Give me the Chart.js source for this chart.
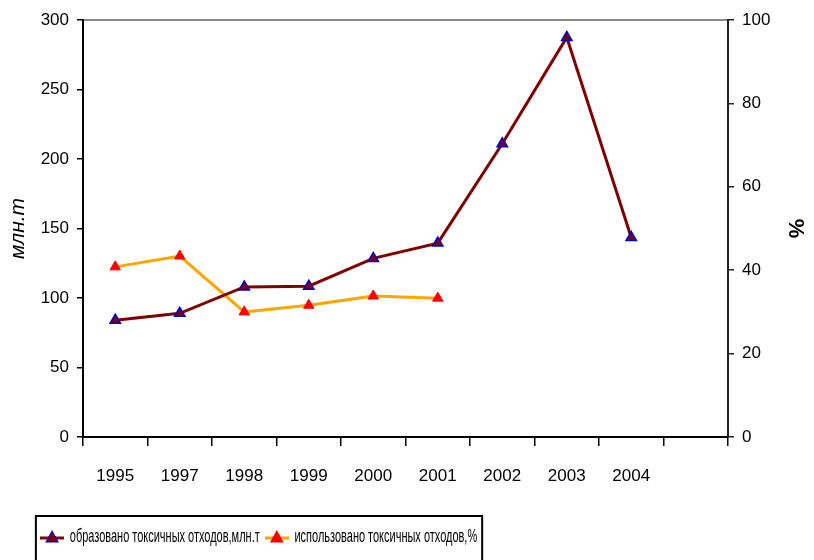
<!DOCTYPE html>
<html>
<head>
<meta charset="utf-8">
<script src="https://cdn.jsdelivr.net/npm/chart.js@4"></script>
<style>
  body { margin: 0; background: #fff; }
  canvas { display: block; }
</style>
</head>
<body>
<canvas id="grafico" width="814" height="560"></canvas>
<script>
// data
const years = ["1995", "1997", "1998", "1999", "2000", "2001", "2002", "2003", "2004", ""];
const obrazovano = [84, 89, 108, 108.5, 128.5, 139.5, 211, 287.5, 143.5, null];
const ispolzovano = [40.8, 43.4, 30, 31.6, 33.8, 33.3, null, null, null, null];
const leftTicks = [0, 50, 100, 150, 200, 250, 300];
const rightTicks = [0, 20, 40, 60, 80, 100];

const FONT = "'Liberation Sans', Arial, sans-serif";
const SX = 0.61;      // legend is narrow in the original
const LEG_LEFT = 35;

// legend symbol: line with triangle (pre-widened, squeezed back by SX)
function symbol(lineColor, fill, stroke) {
  const c = document.createElement("canvas");
  c.width = 40; c.height = 16;
  const g = c.getContext("2d");
  g.strokeStyle = lineColor;
  g.lineWidth = 3;
  g.beginPath(); g.moveTo(0, 9); g.lineTo(40, 9); g.stroke();
  g.fillStyle = fill;
  g.strokeStyle = stroke;
  g.lineWidth = 1.2;
  g.beginPath(); g.moveTo(20, 2); g.lineTo(30, 13); g.lineTo(10, 13); g.closePath();
  g.fill(); g.stroke();
  return c;
}

const legendBox = {
  id: "legendBox",
  afterLayout(chart) {
    const lg = chart.legend;
    const w = lg.width;
    lg.left = LEG_LEFT;
    lg.right = lg.left + w;
    if (!lg._squeezed) {
      const orig = lg.draw;
      lg.draw = function (area) {
        const ctx = this.ctx;
        const x0 = this.left;
        ctx.save();
        ctx.translate(x0, 0);
        ctx.scale(SX, 1);
        ctx.translate(-x0, 0);
        orig.call(this, area);
        ctx.restore();
      };
      lg._squeezed = true;
    }
  },
  afterDraw(chart) {
    const lg = chart.legend;
    const boxes = lg.legendHitBoxes;
    if (!boxes || !boxes.length) return;
    const first = boxes[0], last = boxes[boxes.length - 1];
    const sx = x => lg.left + (x - lg.left) * SX;
    const mid = first.top + first.height / 2;
    const x1 = sx(first.left) - 4;
    const x2 = sx(last.left + last.width) + 5;
    const { ctx } = chart;
    ctx.save();
    ctx.strokeStyle = "#000";
    ctx.lineWidth = 2;
    ctx.strokeRect(x1, mid - 21, x2 - x1, 60);
    ctx.restore();
  }
};

function fixWidth(w) { return s => { s.width = w; }; }
function fixHeight(h) { return s => { s.height = h; }; }

new Chart(document.getElementById("grafico").getContext("2d"), {
  type: "line",
  data: {
    labels: years,
    datasets: [{
      label: "образовано токсичных отходов,млн.т",
      data: obrazovano,
      yAxisID: "y",
      borderColor: "#7f0000",
      borderWidth: 3,
      backgroundColor: "#7f0000",
      pointStyle: "triangle",
      pointRadius: 6,
      pointBackgroundColor: "#800000",
      pointBorderColor: "#0000cc",
      pointBorderWidth: 1.5,
      tension: 0
    }, {
      label: "использовано токсичных отходов,%",
      data: ispolzovano,
      yAxisID: "y2",
      borderColor: "#ffa500",
      borderWidth: 3,
      backgroundColor: "#ff0000",
      pointStyle: "triangle",
      pointRadius: 6,
      pointBackgroundColor: "#ff0000",
      pointBorderColor: "#ff0000",
      pointBorderWidth: 1,
      tension: 0
    }]
  },
  options: {
    responsive: false,
    animation: false,
    devicePixelRatio: 1,
    layout: { padding: { bottom: 4 } },
    plugins: {
      tooltip: { enabled: false },
      legend: {
        position: "bottom",
        align: "start",
        labels: {
          color: "#000",
          font: { family: FONT, size: 18 },
          padding: 8,
          usePointStyle: true,
          pointStyleWidth: 40,
          generateLabels(chart) {
            return [
              { text: chart.data.datasets[0].label, pointStyle: symbol("#7f0000", "#800000", "#0000cc"), datasetIndex: 0, fontColor: "#000", lineWidth: 0 },
              { text: chart.data.datasets[1].label, pointStyle: symbol("#ffa500", "#ff0000", "#ff0000"), datasetIndex: 1, fontColor: "#000", lineWidth: 0 }
            ];
          }
        }
      }
    },
    scales: {
      x: {
        type: "category",
        position: "bottom",
        offset: true,
        afterFit: fixHeight(83),
        grid: { display: true, drawOnChartArea: false, offset: true, tickLength: 9, color: "#000", lineWidth: 1.5 },
        border: { color: "#000", width: 2 },
        ticks: { color: "#000", font: { family: FONT, size: 17 }, padding: 20, maxRotation: 0, autoSkip: false }
      },
      xTop: {
        type: "category",
        position: "top",
        afterFit: fixHeight(20),
        grid: { display: false },
        border: { color: "#888", width: 2 },
        ticks: { display: false }
      },
      y: {
        position: "left",
        min: 0, max: 300,
        afterFit: fixWidth(83),
        afterBuildTicks: s => { s.ticks = leftTicks.map(v => ({ value: v })); },
        grid: { display: true, drawOnChartArea: false, tickLength: 6, color: "#000", lineWidth: 1.5 },
        border: { color: "#000", width: 2 },
        ticks: { color: "#000", font: { family: FONT, size: 17 }, padding: 8 },
        title: { display: true, text: "млн.т", color: "#000", font: { family: FONT, size: 21, style: "italic" }, padding: 6 }
      },
      y2: {
        position: "right",
        min: 0, max: 100,
        afterFit: fixWidth(86),
        afterBuildTicks: s => { s.ticks = rightTicks.map(v => ({ value: v })); },
        grid: { display: true, drawOnChartArea: false, tickLength: 6, color: "#222", lineWidth: 1.5 },
        border: { color: "#222", width: 2 },
        ticks: { color: "#000", font: { family: FONT, size: 17 }, padding: 8 },
        title: { display: true, text: "%", color: "#000", font: { family: FONT, size: 22, weight: "bold" }, padding: 6 }
      }
    }
  },
  plugins: [legendBox]
});
</script>
</body>
</html>
